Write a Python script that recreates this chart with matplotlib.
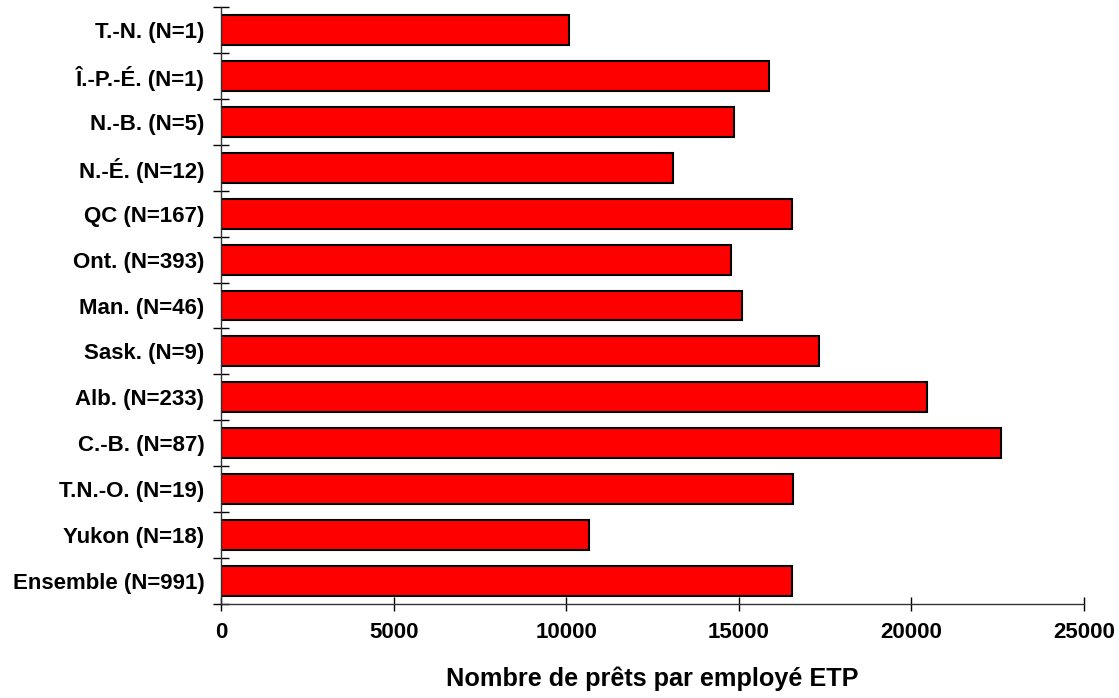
import matplotlib
matplotlib.use("Agg")
import matplotlib.pyplot as plt
import numpy as np

categories = ["T.-N. (N=1)", "Î.-P.-É. (N=1)", "N.-B. (N=5)", "N.-É. (N=12)",
              "QC (N=167)", "Ont. (N=393)", "Man. (N=46)", "Sask. (N=9)",
              "Alb. (N=233)", "C.-B. (N=87)", "T.N.-O. (N=19)", "Yukon (N=18)",
              "Ensemble (N=991)"]
values = [10080, 15880, 14860, 13090, 16540, 14770, 15100, 17310,
          20460, 22600, 16570, 10670, 16530]
xticks = [0, 5000, 10000, 15000, 20000, 25000]
xlabel = "Nombre de prêts par employé ETP"

plt.rcParams['font.family'] = ['Liberation Sans', 'DejaVu Sans']
plt.rcParams['font.weight'] = 'bold'

W, H = 1119, 698
fig = plt.figure(figsize=(W / 100, H / 100), dpi=100)
ax = fig.add_axes([221 / W, (H - 604) / H, (1084 - 221) / W, (604 - 7) / H])

y = np.arange(len(categories))
ax.barh(y, values, height=0.65, color="#ff0000", edgecolor="black", linewidth=1.5)

ax.set_ylim(len(categories) - 0.5, -0.5)
ax.set_xlim(0, 25000)
ax.set_yticks(y)
ax.set_yticklabels(categories, fontsize=16, fontweight='bold')
ax.set_yticks(np.arange(len(categories) + 1) - 0.5, minor=True)
ax.tick_params(axis='y', which='major', length=0, pad=12)
ax.tick_params(axis='y', which='minor', direction='inout', length=11.5, width=1, color='black')
ax.set_xticks(xticks)
ax.set_xticklabels([str(v) for v in xticks], fontsize=16, fontweight='bold')
ax.tick_params(axis='x', which='major', direction='inout', length=10, width=1, color='black', pad=8)

ax.set_xlabel(xlabel, fontsize=18.2, fontweight='bold', labelpad=17)

for s in ['top', 'right']:
    ax.spines[s].set_visible(False)
for s in ['left', 'bottom']:
    ax.spines[s].set_color('#333333')
    ax.spines[s].set_linewidth(1)

fig.savefig("out.png", dpi=100)
